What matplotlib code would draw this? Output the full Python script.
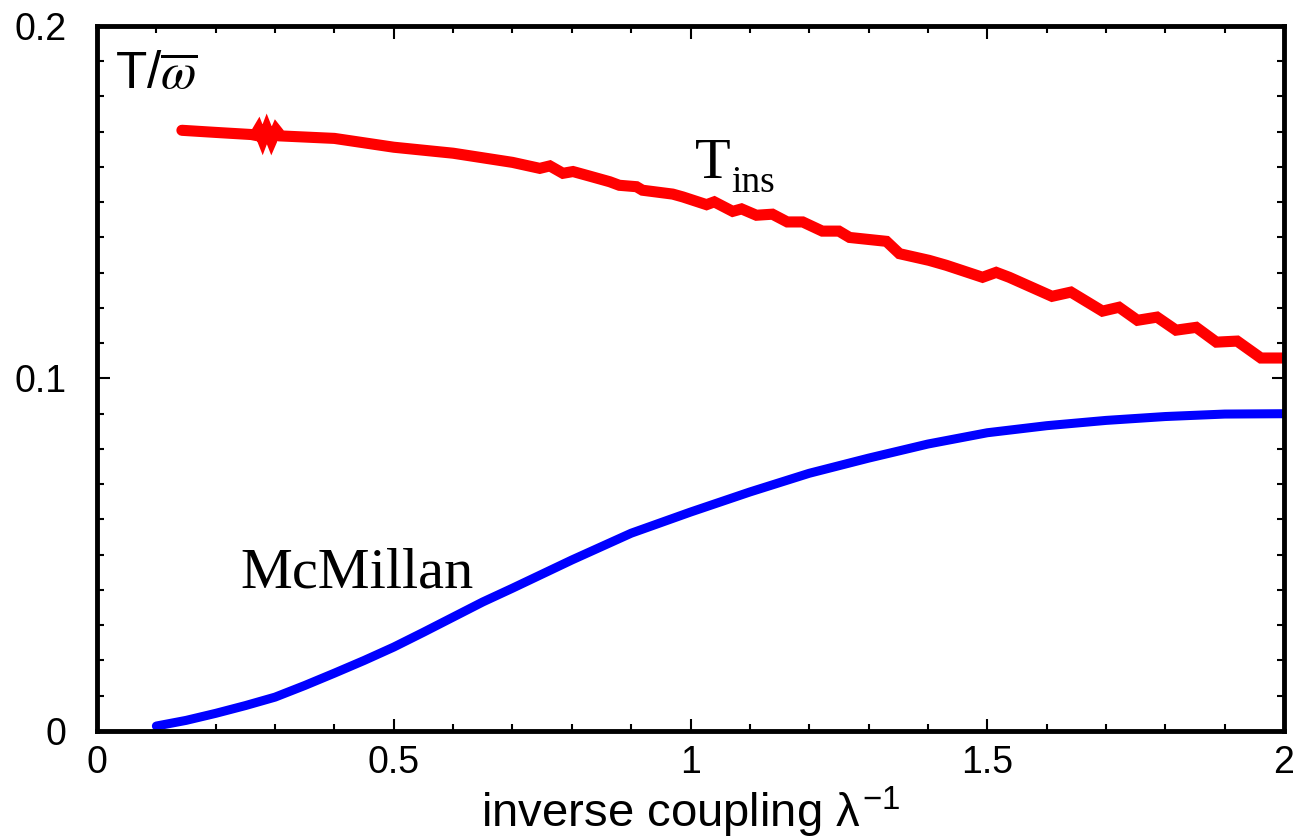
import numpy as np
import matplotlib as mpl
import matplotlib.pyplot as plt
from matplotlib.ticker import MultipleLocator

# T_ins curve (red)
ins_x = [0.143, 0.2, 0.26, 0.266, 0.272, 0.279, 0.286, 0.294, 0.302, 0.31,
         0.4, 0.5, 0.6, 0.7, 0.746, 0.763, 0.785, 0.802, 0.83, 0.864,
         0.88, 0.909, 0.919, 0.97, 0.987, 1.027, 1.04, 1.071, 1.086, 1.111,
         1.138, 1.163, 1.189, 1.222, 1.25, 1.268, 1.33, 1.352, 1.402, 1.431,
         1.492, 1.515, 1.537, 1.609, 1.641, 1.694, 1.722, 1.753, 1.786, 1.818,
         1.852, 1.886, 1.921, 1.961, 2.0]
ins_y = [0.1704, 0.1698, 0.1692, 0.1690, 0.1707, 0.1677, 0.1708, 0.1674, 0.1705, 0.1688,
         0.1681, 0.1656, 0.1639, 0.1613, 0.1596, 0.1603, 0.1582, 0.1587, 0.1574, 0.1558,
         0.1548, 0.1544, 0.1534, 0.1523, 0.1515, 0.1493, 0.1501, 0.1474, 0.1481, 0.1463,
         0.1466, 0.1444, 0.1444, 0.1418, 0.1418, 0.1400, 0.1389, 0.1354, 0.1335, 0.1321,
         0.1287, 0.1301, 0.1287, 0.1233, 0.1245, 0.1191, 0.1202, 0.1165, 0.1174, 0.1137,
         0.1145, 0.1103, 0.1106, 0.1058, 0.1058]

# McMillan curve (blue)
mcm_x = [0.1, 0.15, 0.2, 0.25, 0.3, 0.35, 0.4, 0.45, 0.5, 0.55, 0.6, 0.65, 0.7, 0.8, 0.9,
         1.0, 1.1, 1.2, 1.3, 1.4, 1.5, 1.6, 1.7, 1.8, 1.9, 2.0]
mcm_y = [0.0014, 0.0030, 0.0050, 0.0072, 0.0096, 0.0129, 0.0164, 0.0200, 0.0238, 0.0280,
         0.0323, 0.0366, 0.0405, 0.0485, 0.0561,
         0.0621, 0.0678, 0.0731, 0.0774, 0.0814, 0.0846, 0.0866, 0.0881, 0.0892, 0.0899, 0.0900]

x_ticks = [0, 0.5, 1, 1.5, 2]
x_labels = ['0', '0.5', '1', '1.5', '2']
y_ticks = [0, 0.1, 0.2]
y_labels = ['0', '0.1', '0.2']

mpl.rcParams['font.family'] = 'Liberation Sans'
mpl.rcParams['mathtext.fontset'] = 'custom'
mpl.rcParams['mathtext.rm'] = 'Liberation Sans'
mpl.rcParams['mathtext.it'] = 'Liberation Sans'

fig = plt.figure(figsize=(13.04, 8.4), dpi=100)
ax = fig.add_axes([0.0744, 0.1298, 0.9103, 0.8393])

ax.plot(ins_x, ins_y, color='red', lw=8, solid_capstyle='round', solid_joinstyle='miter')
ax.plot(mcm_x, mcm_y, color='blue', lw=6.5, solid_capstyle='round')

ax.set_xlim(0, 2)
ax.set_ylim(0, 0.2)
ax.set_xticks(x_ticks, x_labels)
ax.set_yticks(y_ticks, y_labels)
ax.xaxis.set_minor_locator(MultipleLocator(0.1))
ax.yaxis.set_minor_locator(MultipleLocator(0.01))
ax.tick_params(which='both', direction='in', top=True, right=True, labelsize=27, width=1.5)
ax.tick_params(axis='x', which='major', length=9, pad=10)
ax.tick_params(axis='y', which='major', length=9, pad=22)
ax.tick_params(which='minor', length=5)
for s in ax.spines.values():
    s.set_linewidth(3.5)

ax.set_xlabel(r'inverse coupling $\lambda^{-1}$', fontsize=34, labelpad=3)

ax.text(0.015, 0.1823, r'T/$\overline{\omega}$', fontsize=37, math_fontfamily='stix',
        transform=ax.get_yaxis_transform())
ax.text(1.007, 0.1568, 'T', fontsize=42, family='Liberation Serif')
ax.text(1.069, 0.1528, 'ins', fontsize=27, family='Liberation Serif')
ax.text(0.241, 0.0408, 'McMillan', fontsize=42, family='Liberation Serif')

fig.savefig('out.png', dpi=100)
